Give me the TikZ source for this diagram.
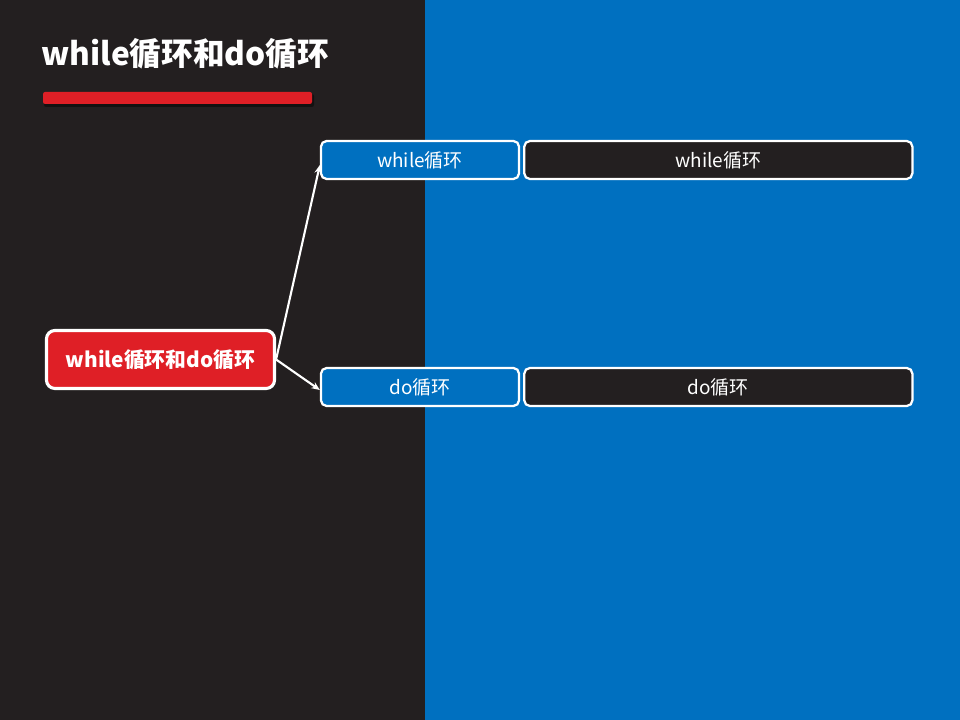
\documentclass[tikz,border=0pt]{standalone}
\usepackage{fontspec}
\setmainfont{Noto Sans CJK SC}
\usepackage{xcolor}
\usetikzlibrary{positioning, arrows.meta}

\definecolor{bgdark}{HTML}{231F20}
\definecolor{bgblue}{HTML}{0070C0}
\definecolor{topred}{HTML}{DF1F26}

\begin{document}
\begin{tikzpicture}[
    x=0.025cm, y=-0.025cm,
    node distance=0.075cm,
    every node/.style={text=white, font=\fontsize{13.5}{15}\selectfont},
    box/.style={draw=white, line width=1.6pt, rounded corners=4pt,
        minimum height=0.95cm, inner sep=0pt},
    keybox/.style={box, fill=bgblue, minimum width=4.95cm},
    textbox/.style={box, fill=bgdark, minimum width=9.7cm},
    link/.style={draw=white, line width=1.5pt, -{Stealth[length=6pt,width=5pt]}}
]
% background halves
\fill[bgdark] (0,0) rectangle (425,720);
\fill[bgblue] (425,0) rectangle (960,720);
\useasboundingbox (0,0) rectangle (960,720);

% title and underline
\node (title) [anchor=west, font=\bfseries\fontsize{22.5}{26}\selectfont, inner sep=0pt] at (41,54) {while循环和do循环};
\fill[black, opacity=0.45, rounded corners=1.5pt] (44,94) rectangle (314,107);
\fill[topred, rounded corners=1.5pt] (43,92) rectangle (312,104);

% main node
\node (root) [box, fill=topred, line width=2.2pt, rounded corners=6pt,
    minimum width=5.7cm, minimum height=1.45cm,
    font=\bfseries\fontsize{14.8}{17}\selectfont] at (160.5,359.5) {while循环和do循环};

% branches
\node (while) [keybox] at (420,160) {while循环};
\node (whiletxt) [textbox, right=of while] {while循环};
\node (do) [keybox] at (420,387) {do循环};
\node (dotxt) [textbox, right=of do] {do循环};

\draw[link] (root.east) -- ([yshift=-0.125cm]while.west);
\draw[link] (root.east) -- ([yshift=-0.075cm]do.west);
\end{tikzpicture}
\end{document}
